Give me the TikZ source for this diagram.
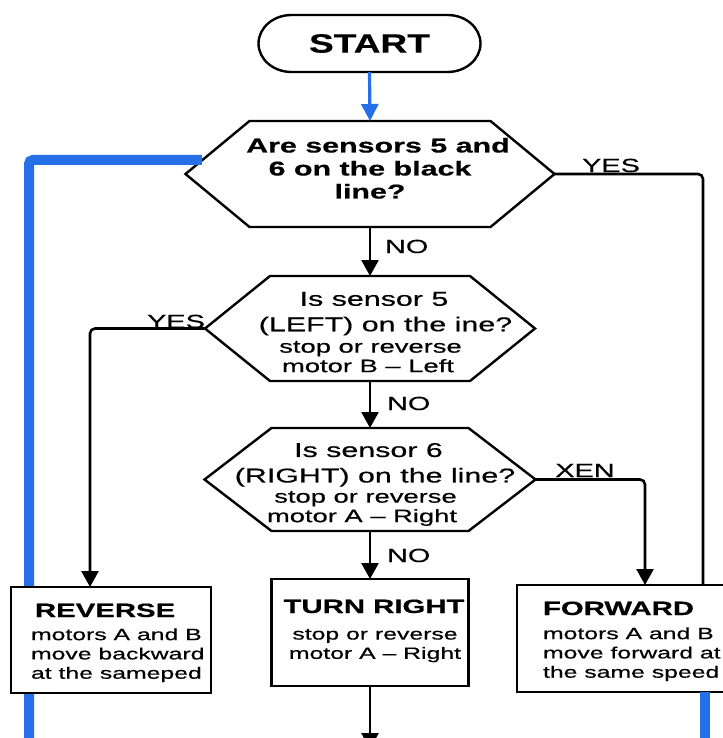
\documentclass[tikz,border=0pt]{standalone}
\usepackage{fontspec}
\setmainfont{Liberation Sans}
\newfontfamily\wide[FakeStretch=1.52,FakeBold=0.5]{Liberation Sans}
\newfontfamily\widestart[FakeStretch=1.4,FakeBold=0.3]{Liberation Sans}
\usetikzlibrary{arrows.meta,calc}
\definecolor{flowblue}{HTML}{2570E8}

% outline of a decision hexagon drawn around an empty frame node
\newcommand\hexoutline[2]{%
  \draw[shapeline] (#1.west) -- ([xshift=#2]#1.north west) -- ([xshift=-#2]#1.north east)
    -- (#1.east) -- ([xshift=-#2]#1.south east) -- ([xshift=#2]#1.south west) -- cycle;}

\begin{document}
\begin{tikzpicture}[x=1pt,y=-1pt,
  shapeline/.style={draw=black, line width=2.4pt, line join=miter},
  frame/.style={rectangle, inner sep=0pt, outer sep=0pt},
  box/.style={frame, draw=black, line width=2.4pt, fill=white},
  conn/.style={line width=2.6pt, draw=black},
  arrowconn/.style={conn, -{Triangle[length=16pt,width=17pt]}},
  bluearrow/.style={line width=3.2pt, draw=flowblue, -{Triangle[length=17pt,width=17pt]}},
  blueback/.style={line width=10pt, draw=flowblue},
  txt/.style={inner sep=0pt, outer sep=0pt, text=black},
  qbold/.style={txt, align=center, font={\wide\bfseries\fontsize{20}{23}\selectfont}},
  qmain/.style={txt, align=center, font={\wide\fontsize{20}{25.5}\selectfont}},
  qsub/.style={txt, align=center, font={\wide\fontsize{18}{19.5}\selectfont}},
  boxtitle/.style={txt, font={\wide\bfseries\fontsize{19.3}{22}\selectfont}},
  boxbody/.style={txt, font={\wide\fontsize{16.3}{19.3}\selectfont}},
  lbl/.style={txt, font={\wide\fontsize{19}{22}\selectfont}}
]
\fill[white] (0,0) rectangle (722,738);
\useasboundingbox (0,0) rectangle (722,738);

% start terminal
\node[frame, minimum width=222pt, minimum height=57pt,
      font={\widestart\bfseries\fontsize{26.5}{30}\selectfont}] (start) at (369.5,43.5) {START};
\draw[shapeline] ([xshift=-78pt]start.north)
  arc[start angle=270, end angle=90, x radius=33, y radius=28.5]
  -- ([xshift=78pt]start.south)
  arc[start angle=90, end angle=-90, x radius=33, y radius=28.5] -- cycle;

% decision frames
\node[frame, minimum width=369pt, minimum height=106pt] (h1) at (370,174) {};
\node[frame, minimum width=330pt, minimum height=105pt] (h2) at (370,328.5) {};
\node[frame, minimum width=331pt, minimum height=103pt] (h3) at (370,479.5) {};
\hexoutline{h1}{64pt}
\hexoutline{h2}{65pt}
\hexoutline{h3}{67pt}

% thick blue return paths
\coordinate (bluein) at (201.9,160);
\coordinate (blueleft) at (29,745);
\draw[blueback, rounded corners=4pt] (bluein) -| (blueleft);

% action boxes
\node[box, minimum width=200pt, minimum height=106pt] (rev) at (111,640) {};
\node[box, minimum width=197pt, minimum height=107pt] (turn) at (370,632.5) {};
\node[box, minimum width=256pt, minimum height=107pt] (fwd) at (645,638.5) {};

\coordinate (blueright) at (704.5,745);
\draw[blueback] ([xshift=59.5pt]fwd.south) -- (blueright);

% connectors
\coordinate (exitpt) at (370,749);
\draw[bluearrow] (start.south) -- (h1.north);
\draw[arrowconn] (h1.south) -- (h2.north);
\draw[arrowconn] (h2.south) -- (h3.north);
\draw[arrowconn] (h3.south) -- (turn.north);
\draw[arrowconn] (turn.south) -- (exitpt);
\draw[conn, rounded corners=5pt] (h1.east) -| ([xshift=58pt]fwd.north);
\draw[arrowconn, rounded corners=5pt] (h2.west) -| ([xshift=-21pt]rev.north);
\draw[arrowconn, rounded corners=5pt] (h3.east) -| (fwd.north);

% decision texts
\node[qbold, anchor=north] (h1q) at (370,138) {\hspace*{16pt}Are sensors 5 and\\6 on the black\\line?};
\node[qmain, anchor=north] (h2q) at (385.5,292) {Is sensor 5\hspace*{23pt}\\(LEFT) on the ine?};
\node[qsub, anchor=north] (h2s) at (370.5,341) {stop or reverse\\motor B – Left\hspace*{5pt}};
\node[qmain, anchor=north] (h3q) at (375,443) {Is sensor 6\hspace*{13pt}\\(RIGHT) on the line?};
\node[qsub, anchor=north] (h3s) at (365.5,491) {stop or reverse\\motor A – Right\hspace*{7pt}};

% action texts
\node[boxtitle, anchor=base west] (revt) at (35,617) {REVERSE};
\node[boxbody, anchor=north west, align=left] (revb) at (31,628.3) {motors A and B\\move backward\\at the sameped};
\node[boxtitle, anchor=base] (turnt) at (374,613) {TURN RIGHT};
\node[boxbody, anchor=north, align=center] (turnb) at (375,629) {stop or reverse\\motor A – Right};
\node[boxtitle, anchor=base west] (fwdt) at (543,615) {FORWARD};
\node[boxbody, anchor=north west, align=left] (fwdb) at (543,627.3) {motors A and B\\move forward at\\the same speed};

% branch labels
\node[lbl, anchor=base] (yes1) at (611,172) {YES};
\node[lbl, anchor=base west] (no1) at (385,253) {NO};
\node[lbl, anchor=base] (yes2) at (176,328) {YES};
\node[lbl, anchor=base west] (no2) at (387,410) {NO};
\node[lbl, anchor=base] (xen) at (585,477) {XEN};
\node[lbl, anchor=base west] (no3) at (387,562) {NO};
\end{tikzpicture}
\end{document}
